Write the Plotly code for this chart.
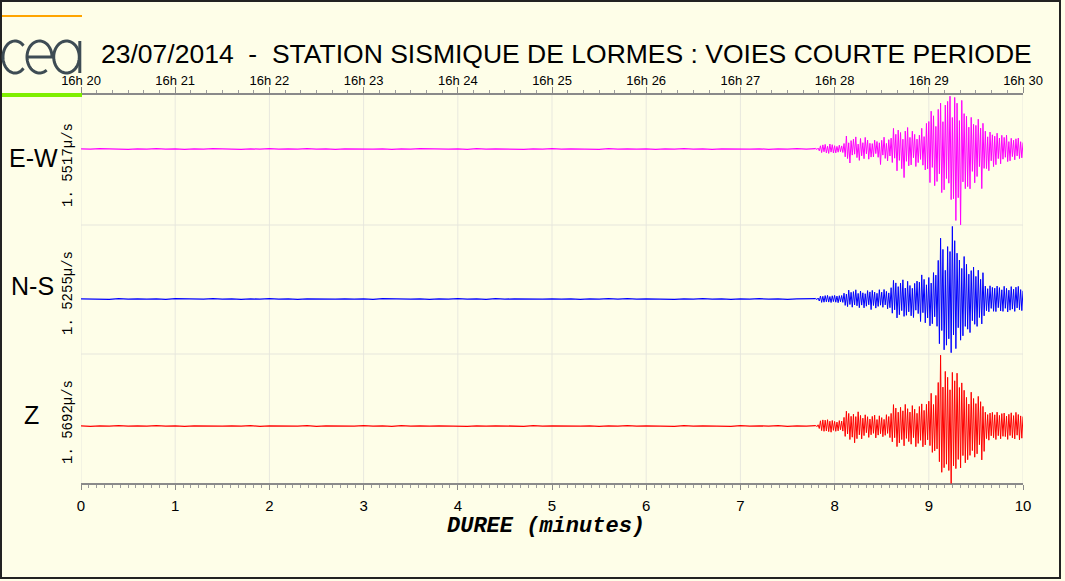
import numpy as np
import plotly.graph_objects as go

# ---------------- data ----------------
minute_ticks = [0, 1, 2, 3, 4, 5, 6, 7, 8, 9, 10]
bottom_labels = ["0", "1", "2", "3", "4", "5", "6", "7", "8", "9", "10"]
top_labels = ["16h 20", "16h 21", "16h 22", "16h 23", "16h 24", "16h 25",
              "16h 26", "16h 27", "16h 28", "16h 29", "16h 30"]

channels = ["E-W", "N-S", "Z"]
scales = ["1. 5517\u00b5/s", "1. 5255\u00b5/s", "1. 5692\u00b5/s"]
colors = ["#FF00FF", "#0000FF", "#FF0000"]

quiet_dt = 0.1        # minutes, pre-event background samples (0 .. 7.8)
active_t0 = 7.8       # minutes
active_dt = 0.0125    # minutes

ew_quiet = [0.2, -0.2, 0.3, -0.1, 0.2, -0.3, 0.2, -0.2, 0.3, -0.2, 0.1, -0.3, 0.2, -0.2,
            0.3, -0.1, 0.2, -0.3, 0.2, -0.2, 0.3, -0.2, 0.1, -0.2, 0.3, -0.2, 0.2, -0.3,
            0.2, -0.1, 0.3, -0.2, 0.2, -0.3, 0.2, -0.2, 0.3, -0.1, 0.2, -0.2, 0.2, -0.3,
            0.3, -0.2, 0.1, -0.2, 0.2, -0.3, 0.2, -0.2, 0.3, -0.2, 0.2, -0.1, 0.2, -0.3,
            0.3, -0.2, 0.2, -0.2, 0.2, -0.3, 0.1, -0.2, 0.3, -0.2, 0.2, -0.3, 0.2, -0.1,
            0.3, -0.2, 0.2, -0.3, 0.2, -0.2, 0.3, -0.2, 0.3]
ns_quiet = [0.2, -0.2, 0.1, -0.3, 0.3, -0.2, 0.2, -0.2, 0.2, -0.3, 0.3, -0.1, 0.2, -0.2,
            0.3, -0.2, 0.2, -0.3, 0.1, -0.2, 0.3, -0.2, 0.2, -0.3, 0.2, -0.1, 0.3, -0.2,
            0.2, -0.2, 0.2, -0.3, 0.3, -0.1, 0.2, -0.2, 0.2, -0.3, 0.1, -0.2, 0.3, -0.2,
            0.2, -0.3, 0.3, -0.2, 0.2, -0.1, 0.3, -0.2, 0.2, -0.2, 0.2, -0.3, 0.1, -0.2,
            0.3, -0.2, 0.3, -0.2, 0.2, -0.1, 0.2, -0.3, 0.2, -0.2, 0.3, -0.2, 0.1, -0.3,
            0.2, -0.2, 0.3, -0.2, 0.2, -0.3, 0.2, -0.1, 0.3]
z_quiet = [0.2, -0.3, 0.2, -0.2, 0.3, -0.2, 0.1, -0.2, 0.3, -0.2, 0.2, -0.3, 0.2, -0.1,
           0.3, -0.2, 0.2, -0.2, 0.3, -0.3, 0.1, -0.2, 0.2, -0.2, 0.3, -0.3, 0.2, -0.1,
           0.2, -0.2, 0.3, -0.2, 0.1, -0.3, 0.3, -0.2, 0.2, -0.2, 0.2, -0.1, 0.3, -0.3,
           0.2, -0.2, 0.2, -0.2, 0.1, -0.3, 0.3, -0.2, 0.2, -0.1, 0.3, -0.2, 0.2, -0.3,
           0.2, -0.2, 0.3, -0.2, 0.1, -0.2, 0.2, -0.3, 0.3, -0.2, 0.2, -0.1, 0.2, -0.3,
           0.3, -0.2, 0.2, -0.2, 0.3, -0.3, 0.2, -0.2, 0.3]

ew_active = [
    0.6, -0.5, 0.9, -1.8, 3.2, -3.6, 4.1, -2.8,
    4.6, -3.9, 2.8, -4.4, 5.0, -3.1, 4.3, -4.0,
    3.3, -3.9, 2.6, -3.2, 3.8, -2.7, 3.1, -3.5,
    5.5, -7.8, 13.0, -9.5, 6.2, -14.0, 8.4, -6.1,
    9.8, -5.2, 12.1, -8.6, 4.9, -11.4, 10.5, -6.8,
    6.3, -9.7, 11.6, -4.8, 8.9, -10.2, 5.7, -8.1,
    5.4, -7.9, 8.8, -4.6, 7.5, -8.3, 6.2, -15.5,
    8.7, -6.1, 11.8, -9.4, 5.6, -11.9, 9.3, -7.0,
    10.8, -13.5, 20.6, -9.2, 14.7, -21.8, 18.9, -11.4,
    16.5, -19.7, 9.8, -28.6, 17.9, -12.3, 21.5, -16.8,
    11.6, -15.9, 17.8, -8.7, 14.6, -17.5, 9.9, -13.6,
    13.8, -10.4, 20.7, -16.2, 12.4, -20.9, 25.6, -19.8,
    27.5, -33.6, 37.8, -18.4, 33.2, -36.7, 22.6, -32.5,
    39.6, -24.8, 45.8, -43.6, 27.3, -40.8, 43.9, -29.5,
    47.6, -34.2, 52.8, -50.6, 31.5, -49.7, 51.6, -71.5,
    45.8, -48.7, 28.4, -75.8, 48.6, -32.9, 35.4, -39.7,
    32.7, -37.6, 21.8, -39.8, 31.6, -22.4, 24.7, -33.8,
    23.6, -27.5, 29.8, -17.6, 20.8, -39.6, 25.7, -19.4,
    17.8, -19.6, 12.2, -21.7, 16.9, -11.8, 14.2, -17.6,
    12.8, -15.7, 15.8, -9.6, 10.9, -14.8, 13.7, -10.2,
    11.6, -8.3, 13.8, -12.6, 7.4, -11.8, 10.7, -7.6,
    8.7, -10.8, 10.2, -6.9, 10.9, -9.6, 7.3, -8.8,
    6.5]

ns_active = [
    0.5, -0.6, 1.0, -2.0, 3.0, -3.4, 2.7, -3.2,
    3.4, -2.8, 3.6, -3.1, 2.5, -3.5, 3.2, -2.6,
    3.6, -3.2, 2.9, -3.7, 3.3, -2.8, 3.5, -3.4,
    5.8, -6.4, 4.9, -7.6, 8.9, -5.5, 6.7, -8.2,
    7.4, -5.9, 9.2, -6.8, 5.6, -8.7, 7.9, -6.1,
    6.2, -8.8, 5.3, -7.2, 8.4, -5.8, 7.1, -10.6,
    8.6, -6.5, 6.9, -9.1, 5.7, -7.4, 9.3, -6.2,
    6.8, -8.3, 9.5, -5.9, 7.6, -9.8, 6.1, -8.7,
    11.3, -14.2, 18.6, -10.8, 16.1, -18.9, 12.4, -15.7,
    15.8, -11.6, 19.2, -17.4, 10.9, -16.3, 17.7, -12.8,
    13.5, -16.8, 10.7, -18.5, 15.6, -11.2, 17.9, -14.6,
    16.8, -22.5, 24.1, -13.7, 19.6, -23.8, 14.2, -18.9,
    21.5, -26.8, 15.9, -24.7, 26.4, -17.8, 23.9, -27.3,
    38.6, -44.7, 60.8, -31.5, 49.6, -50.8, 28.7, -46.2,
    52.4, -39.8, 47.5, -53.7, 72.6, -35.9, 58.3, -49.6,
    45.8, -28.7, 38.9, -41.2, 30.6, -36.8, 42.5, -27.4,
    34.7, -30.2, 24.8, -33.6, 28.4, -21.7, 31.9, -25.3,
    22.6, -27.4, 28.8, -18.5, 19.7, -24.9, 26.3, -16.8,
    12.9, -11.7, 10.3, -12.8, 13.2, -9.4, 11.6, -12.3,
    10.8, -12.6, 12.9, -8.7, 11.4, -11.9, 9.2, -12.4,
    12.7, -9.3, 10.6, -12.9, 8.8, -11.2, 12.4, -10.1,
    9.7, -12.4, 11.8, -8.9, 12.6, -10.7, 9.4, -11.6,
    8.2]

z_active = [
    0.6, -0.7, 1.2, -2.5, 5.2, -4.6, 6.1, -5.3,
    5.8, -4.9, 6.3, -5.6, 4.8, -6.2, 5.5, -4.4,
    4.6, -5.3, 3.9, -4.8, 5.4, -3.7, 4.9, -5.1,
    8.6, -10.4, 14.8, -7.9, 12.6, -13.5, 9.7, -11.2,
    11.8, -16.8, 9.4, -12.7, 14.2, -8.8, 10.6, -12.9,
    7.8, -9.6, 11.2, -6.7, 9.3, -11.4, 6.9, -8.8,
    9.6, -7.3, 10.8, -11.9, 6.5, -9.1, 10.2, -7.7,
    8.4, -10.7, 6.6, -9.3, 11.3, -7.4, 9.5, -11.6,
    12.6, -15.8, 21.4, -11.7, 17.9, -20.6, 13.8, -16.9,
    18.7, -13.5, 15.2, -19.8, 21.6, -12.4, 17.3, -15.6,
    13.9, -18.2, 20.4, -11.6, 16.8, -20.7, 12.7, -17.4,
    19.5, -14.3, 22.1, -20.8, 15.6, -18.9, 21.7, -13.8,
    24.8, -19.6, 32.7, -26.4, 21.5, -24.8, 30.6, -22.9,
    43.5, -35.7, 70.8, -46.3, 38.9, -41.7, 54.6, -38.2,
    48.7, -44.5, 36.2, -57.4, 53.6, -39.8, 45.2, -42.6,
    52.8, -33.4, 38.5, -41.9, 43.1, -29.6, 35.7, -36.8,
    28.6, -33.7, 21.9, -29.4, 33.8, -24.6, 27.5, -31.2,
    22.4, -27.8, 29.6, -18.7, 24.3, -33.9, 19.6, -25.4,
    13.8, -12.6, 11.4, -14.2, 12.9, -9.8, 13.6, -11.7,
    11.2, -13.5, 13.8, -9.7, 10.6, -12.8, 12.4, -10.3,
    12.9, -10.6, 9.8, -13.4, 11.7, -9.5, 13.2, -11.8,
    10.4, -12.9, 13.6, -9.2, 11.5, -13.8, 10.1, -12.2,
    9.5]

quiet_series = [ew_quiet, ns_quiet, z_quiet]
active_series = [ew_active, ns_active, z_active]

# ---------------- layout helpers (pixel -> paper) ----------------
W, H = 1065, 581
BG = "#FEFEE8"


def px(x):
    return x / W


def py(y):
    return 1 - y / H


X0, X1 = 81, 1023          # plot left / right (pixels)
TOP, BOT = 94, 484          # top / bottom axis lines
SEP1, SEP2 = 225, 354       # panel separators
panel_domains = [(SEP1, TOP), (SEP2, SEP1), (BOT, SEP2)]
panel_ranges = [[-76, 55], [-55, 74], [-58, 72]]
label_y = [158, 286, 415]
scale_y = [165, 293, 422]

fig = go.Figure()

yaxis_names = ["y", "y2", "y3"]
for i in range(3):
    q = quiet_series[i]
    a = active_series[i]
    tq = np.arange(len(q)) * quiet_dt
    ta = active_t0 + np.arange(len(a)) * active_dt
    fig.add_trace(go.Scatter(x=tq, y=q, mode="lines", xaxis="x", yaxis=yaxis_names[i],
                             line=dict(color=colors[i], width=1.3),
                             hoverinfo="skip", showlegend=False))
    fig.add_trace(go.Scatter(x=ta, y=a, mode="lines", xaxis="x", yaxis=yaxis_names[i],
                             line=dict(color=colors[i], width=1),
                             hoverinfo="skip", showlegend=False))

# helper (invisible) trace so the top time axis is drawn
fig.add_trace(go.Scatter(x=minute_ticks, y=[0] * len(minute_ticks), mode="none",
                         xaxis="x2", yaxis="y", hoverinfo="skip", showlegend=False))

shapes = []
# vertical grid lines at each minute
for m in minute_ticks:
    shapes.append(dict(type="line", xref="x", yref="paper", x0=m, x1=m,
                       y0=py(BOT), y1=py(TOP), line=dict(color="#E8E8DE", width=1),
                       layer="below"))
# horizontal panel separators
for s in (SEP1, SEP2):
    shapes.append(dict(type="line", xref="paper", yref="paper", x0=px(X0), x1=px(X1),
                       y0=py(s), y1=py(s), line=dict(color="#E6E6DC", width=1),
                       layer="below"))
# frame
shapes.append(dict(type="rect", xref="paper", yref="paper", x0=px(1), x1=px(1060),
                   y0=py(578), y1=py(1), line=dict(color="#222222", width=2)))
# orange and green bars
shapes.append(dict(type="line", xref="paper", yref="paper", x0=px(2), x1=px(82),
                   y0=py(16), y1=py(16), line=dict(color="#FFA500", width=2)))
shapes.append(dict(type="line", xref="paper", yref="paper", x0=px(2), x1=px(82),
                   y0=py(95), y1=py(95), line=dict(color="#7FEF00", width=4)))


# cea logo (decoration)
def arc_path(cx, cy, rx, ry, a0, a1, n=48, start=None):
    th = np.radians(np.linspace(a0, a1, n))
    xs = cx + rx * np.cos(th)
    ys = cy - ry * np.sin(th)
    parts = []
    if start is not None:
        parts.append("M%.5f,%.5f" % (px(start[0]), py(start[1])))
        parts.append("L%.5f,%.5f" % (px(xs[0]), py(ys[0])))
    else:
        parts.append("M%.5f,%.5f" % (px(xs[0]), py(ys[0])))
    for xx, yy in zip(xs[1:], ys[1:]):
        parts.append("L%.5f,%.5f" % (px(xx), py(yy)))
    return " ".join(parts)


logo_col = "#3E4C54"
logo_line = dict(color=logo_col, width=3)
shapes.append(dict(type="path", xref="paper", yref="paper",
                   path=arc_path(15, 57, 12, 16, 45, 315), line=logo_line))
shapes.append(dict(type="path", xref="paper", yref="paper",
                   path=arc_path(39.5, 57, 12.5, 16, 0, 305, start=(27, 57)), line=logo_line))
shapes.append(dict(type="path", xref="paper", yref="paper",
                   path=arc_path(66.5, 57, 12.8, 16, 0, 360), line=logo_line))
shapes.append(dict(type="line", xref="paper", yref="paper", x0=px(79.8), x1=px(79.8),
                   y0=py(41), y1=py(73), line=logo_line))

annotations = []
annotations.append(dict(xref="paper", yref="paper", x=px(566), y=py(54),
                        text="23/07/2014\u00a0\u00a0-\u00a0\u00a0STATION SISMIQUE DE LORMES : VOIES COURTE PERIODE",
                        showarrow=False, xanchor="center", yanchor="middle",
                        font=dict(family="Liberation Sans, Arial, sans-serif", size=26.5, color="black")))
label_x = [33, 32, 31]
for i in range(3):
    annotations.append(dict(xref="paper", yref="paper", x=px(label_x[i]), y=py(label_y[i]),
                            text=channels[i], showarrow=False, xanchor="center", yanchor="middle",
                            font=dict(family="Liberation Sans, Arial, sans-serif", size=25, color="black")))
    annotations.append(dict(xref="paper", yref="paper", x=px(68), y=py(scale_y[i]),
                            text=scales[i], textangle=-90, showarrow=False,
                            xanchor="center", yanchor="middle",
                            font=dict(family="Liberation Mono, Courier New, monospace", size=14, color="black")))
annotations.append(dict(xref="paper", yref="paper", x=px(546), y=py(526),
                        text="DUREE (minutes)", showarrow=False, xanchor="center", yanchor="middle",
                        font=dict(family="Liberation Mono, Courier New, monospace", size=22,
                                  color="black", weight="bold", style="italic")))

axis_col = "#8A8A8A"
layout = dict(
    template="none",
    width=W, height=H, autosize=False,
    margin=dict(l=0, r=0, t=0, b=0, pad=0, autoexpand=False),
    paper_bgcolor=BG, plot_bgcolor=BG,
    showlegend=False,
    xaxis=dict(domain=[px(X0), px(X1)], range=[0, 10], anchor="free", position=py(BOT),
               automargin=False,
               showline=True, linecolor=axis_col, linewidth=1.5, mirror=False,
               ticks="outside", ticklen=5, tickwidth=1, tickcolor=axis_col,
               tickmode="array", tickvals=minute_ticks, ticktext=bottom_labels,
               tickfont=dict(family="Liberation Sans, Arial, sans-serif", size=15, color="black"),
               ticklabelstandoff=3,
               minor=dict(ticks="outside", tick0=0, dtick=1 / 12, ticklen=3, tickwidth=1,
                          tickcolor="#9C9C9C", showgrid=False),
               showgrid=False, zeroline=False, fixedrange=True),
    xaxis2=dict(overlaying="x", side="top", anchor="free", position=py(TOP),
                automargin=False,
                range=[0, 10], showline=True, linecolor=axis_col, linewidth=1.5,
                ticks="outside", ticklen=6, tickwidth=1, tickcolor=axis_col,
                tickmode="array", tickvals=minute_ticks, ticktext=top_labels,
                tickfont=dict(family="Liberation Sans, Arial, sans-serif", size=13, color="black"),
                ticklabelstandoff=-3,
                minor=dict(ticks="outside", tick0=0, dtick=1 / 6, ticklen=3.5, tickwidth=1,
                           tickcolor="#9C9C9C", showgrid=False),
                showgrid=False, zeroline=False, fixedrange=True),
    shapes=shapes,
    annotations=annotations,
)
for i, name in enumerate(["yaxis", "yaxis2", "yaxis3"]):
    lo, hi = panel_domains[i]
    layout[name] = dict(domain=[py(lo), py(hi)], range=panel_ranges[i], visible=False,
                        fixedrange=True, anchor="x", automargin=False)

fig.update_layout(**layout)
fig.write_html("out.html", config={"displayModeBar": False},
               post_script="document.body.style.margin='0';document.body.style.background='%s';" % BG)
